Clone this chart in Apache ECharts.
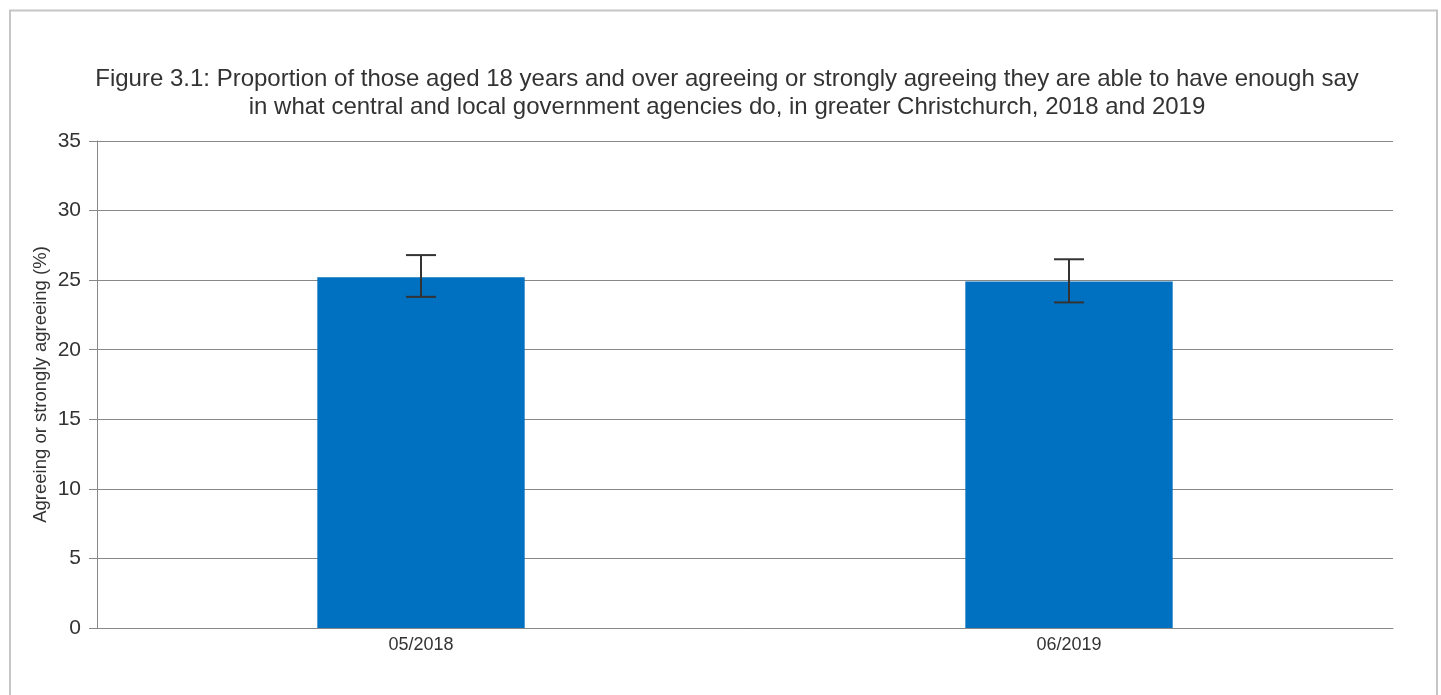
<!DOCTYPE html>
<html>
<head>
<meta charset="utf-8">
<script src="https://cdn.jsdelivr.net/npm/echarts@6/dist/echarts.min.js"></script>
<style>html,body{margin:0;padding:0;background:#fff}#c{width:1441px;height:695px}</style>
</head>
<body>
<div id="c"></div>
<script>
const categories = ['05/2018', '06/2019'];
const values = [25.2, 24.9];
const errLow = [23.8, 23.4];
const errHigh = [26.8, 26.5];
const yTicks = [0, 5, 10, 15, 20, 25, 30, 35];

const chart = echarts.init(document.getElementById('c'));
const font = '"Liberation Sans", Arial, sans-serif';
chart.setOption({
  animation: false,
  backgroundColor: '#fff',
  graphic: [
    {type: 'rect', shape: {x: 10, y: 10.5, width: 1427, height: 720}, style: {fill: 'none', stroke: '#c6c6c6', lineWidth: 2}},
    {type: 'text', x: 727, y: 65, style: {text: 'Figure 3.1: Proportion of those aged 18 years and over agreeing or strongly agreeing they are able to have enough say\nin what central and local government agencies do, in greater Christchurch, 2018 and 2019', fontFamily: font, fontSize: 24, lineHeight: 28, fill: '#333', align: 'center', verticalAlign: 'top'}}
  ],
  grid: {left: 97, right: 48, top: 141, bottom: 67},
  xAxis: {
    type: 'category', data: categories,
    axisLine: {lineStyle: {color: '#888'}},
    axisTick: {alignWithLabel: true, length: 5, lineStyle: {color: '#888'}},
    axisLabel: {fontFamily: font, fontSize: 18, color: '#333', margin: 8}
  },
  yAxis: {
    type: 'value', min: yTicks[0], max: yTicks[yTicks.length - 1], interval: 5,
    name: 'Agreeing or strongly agreeing (%)', nameLocation: 'middle', nameGap: 47,
    nameMoveOverlap: false,
    nameTextStyle: {fontFamily: font, fontSize: 18.5, color: '#333'},
    axisLine: {show: true, lineStyle: {color: '#888'}},
    axisTick: {show: true, length: 8, lineStyle: {color: '#888'}},
    splitLine: {lineStyle: {color: '#888'}},
    axisLabel: {fontFamily: font, fontSize: 21, color: '#333', margin: 16}
  },
  series: [
    {type: 'bar', data: values, barWidth: '32%', itemStyle: {color: '#0070C0'}, z: 2},
    {
      type: 'custom', z: 5,
      data: categories.map((c, i) => [i, errLow[i], errHigh[i]]),
      renderItem: function (params, api) {
        const lo = api.coord([api.value(0), api.value(1)]);
        const hi = api.coord([api.value(0), api.value(2)]);
        const hw = 15;
        const st = {stroke: '#333', lineWidth: 2};
        return {type: 'group', children: [
          {type: 'line', shape: {x1: lo[0], y1: lo[1], x2: hi[0], y2: hi[1]}, style: st},
          {type: 'line', shape: {x1: lo[0] - hw, y1: lo[1], x2: lo[0] + hw, y2: lo[1]}, style: st},
          {type: 'line', shape: {x1: hi[0] - hw, y1: hi[1], x2: hi[0] + hw, y2: hi[1]}, style: st}
        ]};
      }
    }
  ]
});
</script>
</body>
</html>
